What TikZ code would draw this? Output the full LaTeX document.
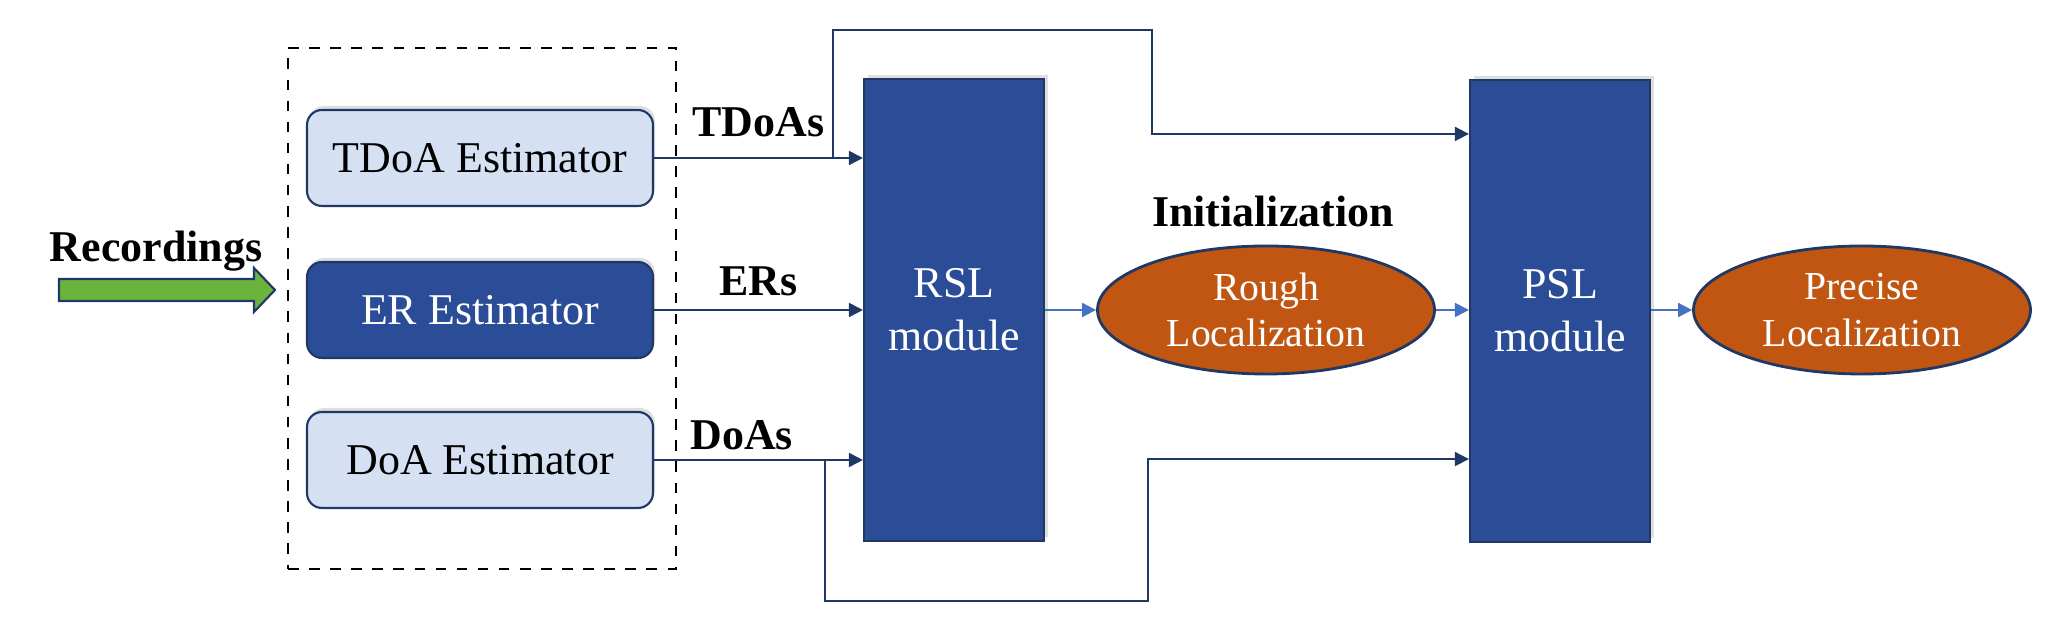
\documentclass[tikz,border=0pt]{standalone}
\usepackage{fontspec}
\setmainfont{Liberation Serif}
\usepackage{tikz}
\usetikzlibrary{shapes.geometric, arrows.meta, positioning, calc, shadows}
\usepackage{xcolor}
\definecolor{navyline}{HTML}{1F3864}
\definecolor{lightbox}{HTML}{D6E0F3}
\definecolor{darkbox}{HTML}{2B4C96}
\definecolor{rustfill}{HTML}{C05612}
\definecolor{linkblue}{HTML}{4472C4}
\definecolor{greenin}{HTML}{6CB33E}

\begin{document}
\begin{tikzpicture}[
    estimator/.style={rectangle, rounded corners=0.15cm, draw=navyline, line width=0.6pt, fill=lightbox, minimum width=3.46cm, minimum height=0.96cm, align=center, font=\fontsize{12.5}{15}\selectfont, drop shadow={shadow xshift=0.02cm, shadow yshift=0.04cm, opacity=0.25}},
    darkest/.style={estimator, fill=darkbox, text=white},
    module/.style={rectangle, draw=navyline, line width=0.6pt, fill=darkbox, text=white, minimum width=1.8cm, minimum height=4.62cm, align=center, font=\fontsize{12.5}{15}\selectfont, drop shadow={shadow xshift=0.04cm, shadow yshift=0.04cm, opacity=0.25}},
    result/.style={ellipse, draw=navyline, line width=0.8pt, fill=rustfill, text=white, minimum width=3.37cm, minimum height=1.28cm, inner sep=0pt, align=center, font=\fontsize{11.3}{13.3}\selectfont},
    lbl/.style={font=\fontsize{12.5}{15}\selectfont\bfseries, inner sep=0pt},
    link/.style={-{Triangle[length=0.14cm, width=0.14cm]}, draw=navyline, line width=0.5pt},
    flow/.style={link, draw=linkblue}
]
    \useasboundingbox (0,0) rectangle (20.46,-6.42);

    % Estimators
    \node[draw, dashed, line width=0.6pt, minimum width=3.88cm, minimum height=5.21cm] (frontend) at (4.82,-3.085) {};
    \node[estimator] (tdoa) at (4.80,-1.58) {TDoA Estimator};
    \node[darkest] (er) at (4.80,-3.10) {ER Estimator};
    \node[estimator] (doa) at (4.80,-4.60) {DoA Estimator};

    % Input
    \node[lbl, anchor=base] (reclabel) at (1.56,-2.62) {Recordings};
    \filldraw[fill=greenin, draw=navyline, line width=0.6pt] (0.59,-2.79) -- (2.54,-2.79) -- (2.54,-2.68) -- (2.75,-2.90) -- (2.54,-3.12) -- (2.54,-3.01) -- (0.59,-3.01) -- cycle;

    % Localization stages
    \node[module] (rsl) at (9.54,-3.10) {RSL\\module};
    \node[result] (rough) at (12.66,-3.10) {Rough\\Localization};
    \node[lbl, anchor=base] (init) at (12.73,-2.27) {Initialization};
    \node[module] (psl) at (15.60,-3.11) {PSL\\module};
    \node[result] (precise) at (18.62,-3.10) {Precise\\Localization};

    % Connections
    \draw[link] (tdoa) -- node[lbl, above=0.2cm] {TDoAs} (rsl.west |- tdoa);
    \draw[link] (er) -- node[lbl, above=0.13cm] {ERs} (rsl.west |- er);
    \draw[link] (doa) -- node[lbl, above=0.09cm, pos=0.42] {DoAs} (rsl.west |- doa);
    \draw[flow] (rsl) -- (rough);
    \draw[flow] (rough) -- (psl.west |- rough);
    \draw[flow] (psl.east |- precise) -- (precise);

    % Bypass to PSL module
    \coordinate (tsplit) at (8.33,-1.58);
    \coordinate (dsplit) at (8.25,-4.60);
    \coordinate (pslt) at ($(psl.north west)+(0,-0.55)$);
    \coordinate (pslb) at ($(psl.south west)+(0,0.84)$);
    \draw[link] (tsplit) -- ++(0,1.28) -- ++(3.19,0) |- (pslt);
    \draw[link] (dsplit) -- ++(0,-1.41) -- ++(3.23,0) |- (pslb);
\end{tikzpicture}
\end{document}
